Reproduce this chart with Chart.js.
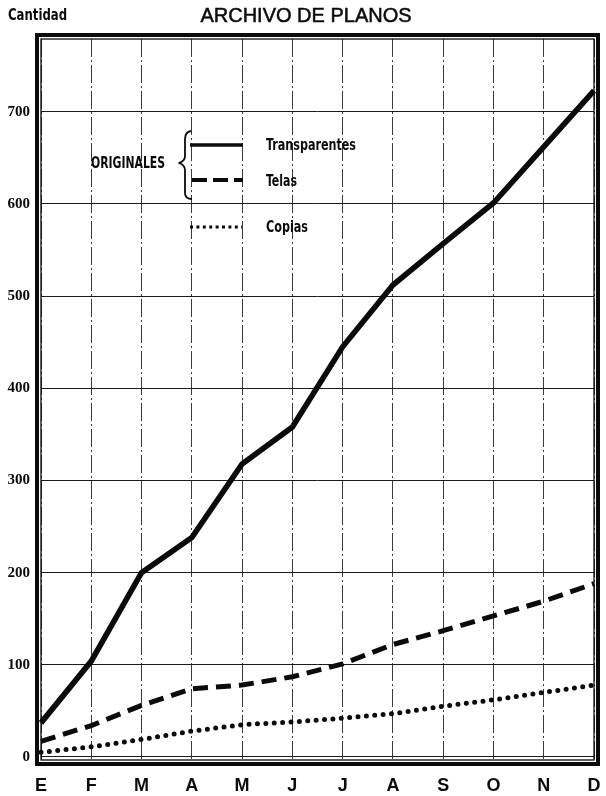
<!DOCTYPE html>
<html>
<head>
<meta charset="utf-8">
<title>Archivo de planos</title>
<script src="https://cdn.jsdelivr.net/npm/chart.js@4/dist/chart.umd.min.js"></script>
<style>
  html, body { margin: 0; padding: 0; background: #fff; }
  canvas { display: block; }
</style>
</head>
<body>
<canvas id="chart" width="606" height="796"></canvas>
<script>
// Monthly counts for the drawing archive
const months = ['E', 'F', 'M', 'A', 'M', 'J', 'J', 'A', 'S', 'O', 'N', 'D'];
const transparentes = [37, 104, 200, 238, 318, 358, 445, 512, 557, 601, 662, 723];
const telas = [17, 34, 56, 74, 78, 87, 101, 122, 137, 153, 169, 188];
const copias = [5, 11, 19, 28, 35, 38, 42, 47, 55, 62, 70, 78];
const yTicks = [0, 100, 200, 300, 400, 500, 600, 700];

const INK = '#0b0b0b';
const NARROW = '"Liberation Sans Narrow", "DejaVu Sans Condensed", "Liberation Sans", sans-serif';

// Bold condensed lettering, squeezed to a given width
function narrowText(ctx, text, x, baseline, size, width) {
  ctx.save();
  ctx.font = 'bold ' + size + 'px ' + NARROW;
  const w = ctx.measureText(text).width;
  ctx.translate(x, baseline);
  ctx.scale(width / w, 1);
  ctx.textAlign = 'left';
  ctx.textBaseline = 'alphabetic';
  ctx.fillStyle = INK;
  ctx.fillText(text, 0, 0);
  ctx.restore();
}

// Double frame: thin inner rule on the plot area and a heavy outer rule
const framePlugin = {
  id: 'frame',
  afterDraw(chart) {
    const { ctx, chartArea: a } = chart;
    ctx.save();
    ctx.strokeStyle = INK;
    ctx.lineWidth = 1.3;
    ctx.strokeRect(a.left, a.top, a.right - a.left, a.bottom - a.top);
    ctx.lineWidth = 4;
    ctx.strokeRect(a.left - 4, a.top - 4, a.right - a.left + 8, a.bottom - a.top + 8);
    ctx.restore();
  }
};

// Heading, axis caption and the key with its brace
const annotationPlugin = {
  id: 'annotations',
  afterDraw(chart) {
    const { ctx, chartArea: a } = chart;
    const L = a.left, T = a.top;

    ctx.save();
    ctx.fillStyle = INK;
    ctx.font = '20px "Liberation Sans", Arial, sans-serif';
    ctx.textAlign = 'center';
    ctx.textBaseline = 'alphabetic';
    ctx.lineWidth = 0.5;
    ctx.strokeStyle = INK;
    ctx.fillText('ARCHIVO DE PLANOS', 306, 22);
    ctx.strokeText('ARCHIVO DE PLANOS', 306, 22);
    ctx.restore();

    narrowText(ctx, 'Cantidad', 8, 20, 16, 59);

    // key
    narrowText(ctx, 'ORIGINALES', L + 50, T + 129, 16, 74);

    ctx.save();
    ctx.strokeStyle = INK;
    ctx.lineWidth = 1.8;
    ctx.lineJoin = 'round';
    ctx.beginPath();
    ctx.moveTo(L + 150, T + 92);
    ctx.quadraticCurveTo(L + 144, T + 93, L + 144, T + 100);
    ctx.lineTo(L + 144, T + 117);
    ctx.quadraticCurveTo(L + 144, T + 122, L + 138, T + 124);
    ctx.quadraticCurveTo(L + 144, T + 126, L + 144, T + 131);
    ctx.lineTo(L + 144, T + 154);
    ctx.quadraticCurveTo(L + 144, T + 160, L + 151, T + 160);
    ctx.stroke();

    ctx.lineCap = 'butt';
    ctx.lineWidth = 3.5;
    ctx.beginPath();
    ctx.moveTo(L + 149, T + 106);
    ctx.lineTo(L + 202, T + 106);
    ctx.stroke();

    ctx.lineWidth = 4;
    ctx.setLineDash([15, 6]);
    ctx.beginPath();
    ctx.moveTo(L + 151, T + 141);
    ctx.lineTo(L + 202, T + 141);
    ctx.stroke();

    ctx.lineWidth = 3;
    ctx.setLineDash([3, 3.4]);
    ctx.beginPath();
    ctx.moveTo(L + 149, T + 188);
    ctx.lineTo(L + 201, T + 188);
    ctx.stroke();
    ctx.restore();

    narrowText(ctx, 'Transparentes', L + 225, T + 111, 16, 90);
    narrowText(ctx, 'Telas', L + 225, T + 147, 16, 31);
    narrowText(ctx, 'Copias', L + 225, T + 193, 16, 42);
  }
};

new Chart(document.getElementById('chart'), {
  type: 'line',
  data: {
    labels: months,
    datasets: [
      {
        label: 'Transparentes',
        data: transparentes,
        borderColor: INK,
        borderWidth: 5.6,
        borderJoinStyle: 'miter',
        pointRadius: 0,
        tension: 0,
        fill: false
      },
      {
        label: 'Telas',
        data: telas,
        borderColor: INK,
        borderWidth: 5,
        borderDash: [15, 8],
        borderCapStyle: 'butt',
        pointRadius: 0,
        tension: 0,
        fill: false
      },
      {
        label: 'Copias',
        data: copias,
        borderColor: INK,
        borderWidth: 5,
        borderDash: [0, 8.4],
        borderCapStyle: 'round',
        pointRadius: 0,
        tension: 0,
        fill: false
      }
    ]
  },
  options: {
    responsive: false,
    animation: false,
    devicePixelRatio: 1,
    layout: { padding: { top: 39, right: 12, bottom: 0, left: 0 } },
    plugins: {
      legend: { display: false },
      title: { display: false },
      tooltip: { enabled: false }
    },
    scales: {
      x: {
        type: 'category',
        offset: false,
        grid: {
          color: '#3a3a3a',
          lineWidth: 1,
          drawTicks: false
        },
        border: { display: false, dash: [18, 3, 2, 3] },
        ticks: {
          color: INK,
          font: { family: '"Liberation Sans", Arial, sans-serif', size: 18, weight: 'bold' },
          padding: 15,
          autoSkip: false,
          maxRotation: 0
        },
        afterFit(scale) {
          scale.height = 36;
          scale.paddingLeft = 0;
          scale.paddingRight = 0;
        }
      },
      y: {
        min: -3.3,
        max: 779,
        grid: {
          color: '#1a1a1a',
          lineWidth: 1,
          drawTicks: false
        },
        border: { display: false },
        ticks: {
          color: INK,
          font: { family: '"Liberation Serif", "DejaVu Serif", serif', size: 15, weight: 'bold' },
          padding: 11
        },
        afterBuildTicks(scale) {
          scale.ticks = yTicks.map(v => ({ value: v }));
        },
        afterFit(scale) { scale.width = 41; }
      }
    }
  },
  plugins: [framePlugin, annotationPlugin]
});
</script>
</body>
</html>
